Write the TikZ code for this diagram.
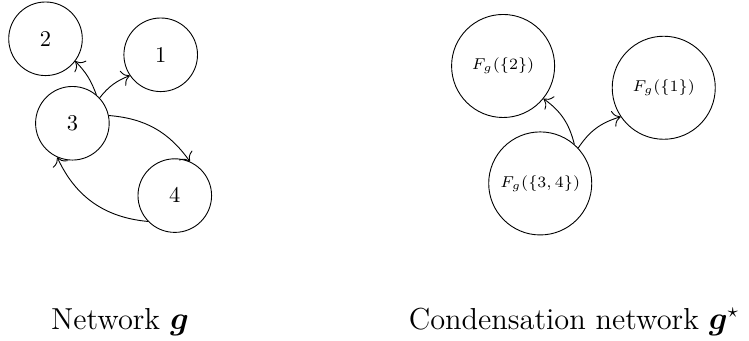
\documentclass[tikz,border=0pt]{standalone}
\usepackage{bm}
\usepackage{tikz}
\usetikzlibrary{positioning, arrows.meta}
\tikzstyle{vertex} = [circle, minimum size=1.15cm, inner sep=0pt, text centered, draw=black]
\tikzstyle{scc} = [circle, minimum size=1.61cm, inner sep=0pt, text centered, draw=black, font=\fontsize{7.4}{9}\selectfont]
\tikzstyle{caption} = [anchor=base, font=\fontsize{13.5}{16}\selectfont]
\tikzstyle{arrow} = [-{To[scale=1.4]}]

\begin{document}
\begin{tikzpicture}[node distance=2cm]
\useasboundingbox (0,0) rectangle (11.703,-5.328);
\node (n2) [vertex] at (0.711,-0.606) {$2$};
\node (n1) [vertex, right of=n2, xshift=-0.2cm, yshift=-0.25cm] {$1$};
\node (n3) [vertex, below of=n2, xshift=0.42cm, yshift=0.68cm] {$3$};
\node (n4) [vertex, right of=n3, xshift=-0.4cm, yshift=-1.13cm] {$4$};
\draw [arrow] (n3.50) to[bend right=12] (n2.-37);
\draw [arrow] (n3.43) to[bend left=15] (n1.214);
\draw [arrow] (n3.12) to[bend left=25] (n4.66);
\draw [arrow] (n4.224) to[bend left=30] (n3.246);

\node (c34) [scc, right of=n3, xshift=5.31cm, yshift=-0.94cm] {$F_g(\{3,4\})$};
\node (c2) [scc, above of=c34, xshift=-0.58cm, yshift=-0.165cm] {$F_g(\{2\})$};
\node (c1) [scc, right of=c2, xshift=0.51cm, yshift=-0.34cm] {$F_g(\{1\})$};
\draw [arrow] (c34.49) to[bend right=20] (c2.-39);
\draw [arrow] (c34.43) to[bend left=20] (c1.214);

\node (netg) [caption] at (1.875,-5.141) {Network $\bm{g}$};
\node (netgstar) [caption] at (8.969,-5.141) {Condensation network $\bm{g}^{\star}$};
\end{tikzpicture}
\end{document}
